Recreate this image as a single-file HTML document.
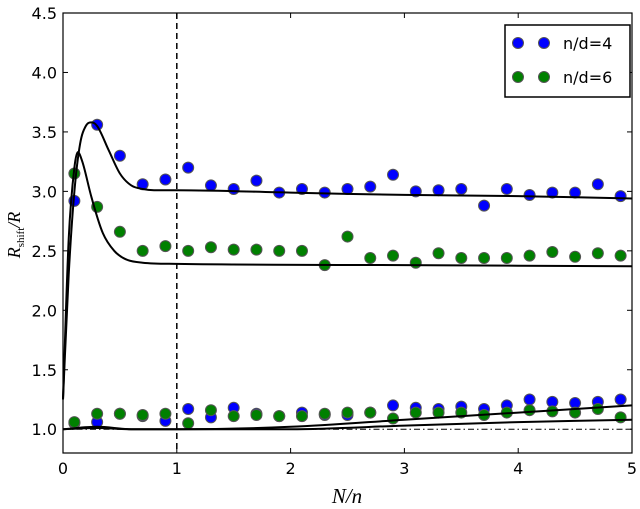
<!DOCTYPE html>
<html><head><meta charset="utf-8"><style>
body{margin:0;background:#fff;}
svg{display:block;font-family:"DejaVu Sans","Liberation Sans",sans-serif;}
</style></head><body>
<svg id="chart" width="640" height="509" viewBox="0 0 640 509"></svg>
<script>
const xs = [0.1,0.3,0.5,0.7,0.9,1.1,1.3,1.5,1.7,1.9,2.1,2.3,2.5,2.7,2.9,3.1,3.3,3.5,3.7,3.9,4.1,4.3,4.5,4.7,4.9];
const blueUpper = [2.92,3.56,3.30,3.06,3.10,3.20,3.05,3.02,3.09,2.99,3.02,2.99,3.02,3.04,3.14,3.00,3.01,3.02,2.88,3.02,2.97,2.99,2.99,3.06,2.96];
const greenUpper = [3.15,2.87,2.66,2.50,2.54,2.50,2.53,2.51,2.51,2.50,2.50,2.38,2.62,2.44,2.46,2.40,2.48,2.44,2.44,2.44,2.46,2.49,2.45,2.48,2.46];
const blueLower = [1.05,1.06,1.13,1.11,1.07,1.17,1.10,1.18,1.13,1.11,1.14,1.12,1.12,1.14,1.20,1.18,1.17,1.19,1.17,1.20,1.25,1.23,1.22,1.23,1.25];
const greenLower = [1.06,1.13,1.13,1.12,1.13,1.05,1.16,1.11,1.12,1.11,1.11,1.13,1.14,1.14,1.09,1.14,1.14,1.14,1.12,1.14,1.16,1.15,1.14,1.17,1.10];
const curveAX = [0,0.05,0.1,0.15,0.2,0.25,0.3,0.4,0.5,0.6,0.7,0.8,1,2,3,4,5];
const curveAY = [1.25,2.3,3.0,3.4,3.55,3.58,3.55,3.35,3.15,3.05,3.02,3.01,3.01,2.99,2.97,2.96,2.94];
const curveBX = [0,0.05,0.1,0.13,0.17,0.25,0.35,0.45,0.55,0.7,1,3,5];
const curveBY = [1.25,2.6,3.2,3.33,3.25,2.95,2.65,2.5,2.43,2.40,2.39,2.38,2.37];
const curveCX = [0,0.3,0.6,1,2,3,4,5];
const curveCY = [1.0,1.02,1.0,1.0,1.02,1.08,1.14,1.2];
const curveDX = [0,0.3,0.6,2,3,4,5];
const curveDY = [1.0,1.01,1.0,1.0,1.03,1.06,1.08];
const xTicks = [0,1,2,3,4,5];
const yTicks = [1.0,1.5,2.0,2.5,3.0,3.5,4.0,4.5];

const L=63,R=632,T=13,B=453;
const X0=0,X1=5,Y0=0.8,Y1=4.5;
function sx(v){return L+(v-X0)/(X1-X0)*(R-L);}
function sy(v){return B-(v-Y0)/(Y1-Y0)*(B-T);}
const NS="http://www.w3.org/2000/svg";
const svg=document.getElementById('chart');
function mk(tag,attrs,parent){const e=document.createElementNS(NS,tag);for(const k in attrs)e.setAttribute(k,attrs[k]);(parent||svg).appendChild(e);return e;}

let g=mk('line',{x1:sx(1),x2:sx(1),y1:T,y2:B,stroke:'#000','stroke-width':1.5,'stroke-dasharray':'6,4'});


g=mk('line',{x1:sx(0),x2:sx(5),y1:sy(1),y2:sy(1),stroke:'#000','stroke-width':1,'stroke-dasharray':'6,3,1.5,3'});



// monotone cubic (Fritsch-Carlson) in pixel space
function monoPath(xa,ya){
  const px=xa.map(sx), py=ya.map(sy), n=px.length;
  const d=[],m=[];
  for(let i=0;i<n-1;i++) d.push((py[i+1]-py[i])/(px[i+1]-px[i]));
  m[0]=d[0]; m[n-1]=d[n-2];
  for(let i=1;i<n-1;i++){ m[i]=(d[i-1]*d[i]<=0)?0:(d[i-1]+d[i])/2; }
  for(let i=0;i<n-1;i++){
    if(d[i]===0){m[i]=0;m[i+1]=0;continue;}
    const a=m[i]/d[i],b=m[i+1]/d[i],s=a*a+b*b;
    if(s>9){const t=3/Math.sqrt(s);m[i]=t*a*d[i];m[i+1]=t*b*d[i];}
  }
  let p='M'+px[0].toFixed(1)+','+py[0].toFixed(1);
  for(let i=0;i<n-1;i++){
    const h=(px[i+1]-px[i])/3;
    p+=' C'+(px[i]+h).toFixed(1)+','+(py[i]+m[i]*h).toFixed(1)+' '+(px[i+1]-h).toFixed(1)+','+(py[i+1]-m[i+1]*h).toFixed(1)+' '+px[i+1].toFixed(1)+','+py[i+1].toFixed(1);
  }
  return p;
}
function curve(xa,ya,name){
  const p=mk('path',{d:monoPath(xa,ya),fill:'none',stroke:'#000','stroke-width':2,'stroke-linejoin':'round'});
  
  
}
function points(ya,color,name){
  const grp=mk('g',{});
  
  
  xs.forEach((x,i)=>{
    const c=mk('circle',{cx:sx(x),cy:sy(ya[i]),r:5.5,fill:color,stroke:'#555','stroke-width':1},grp);
    
    
  });
}
points(blueUpper,'#0000ff','series-blue-upper');
points(blueLower,'#0000ff','series-blue-lower');
points(greenUpper,'#008000','series-green-upper');
points(greenLower,'#008000','series-green-lower');
curve(curveAX,curveAY,'fit-curve-upper');
curve(curveBX,curveBY,'fit-curve-middle');
curve(curveCX,curveCY,'fit-curve-lower-a');
curve(curveDX,curveDY,'fit-curve-lower-b');

g=mk('rect',{x:L,y:T,width:R-L,height:B-T,fill:'none',stroke:'#000','stroke-width':1.2});


xTicks.forEach(t=>{
  const x=sx(t);
  mk('line',{x1:x,x2:x,y1:B,y2:B-5,stroke:'#000'});
  mk('line',{x1:x,x2:x,y1:T,y2:T+5,stroke:'#000'});
  const tx=mk('text',{x:x,y:B+21,'font-size':16,'text-anchor':'middle'});
  tx.textContent=String(t);
  
  
});
yTicks.forEach(t=>{
  const y=sy(t);
  mk('line',{x1:L,x2:L+5,y1:y,y2:y,stroke:'#000'});
  mk('line',{x1:R,x2:R-5,y1:y,y2:y,stroke:'#000'});
  const tx=mk('text',{x:L-6,y:y+6,'font-size':16,'text-anchor':'end'});
  tx.textContent=t.toFixed(1);
  
  
});
</script>
<svg style="position:absolute;left:0;top:0" width="640" height="509">
  <text x="347" y="503" font-size="21" font-style="italic" text-anchor="middle" font-family="Liberation Serif,serif">N/n</text>
  <text transform="translate(20,235) rotate(-90)" font-size="18" font-style="italic" text-anchor="middle" font-family="Liberation Serif,serif">R<tspan font-size="11" font-style="normal" dy="4">shift</tspan><tspan dy="-4">/R</tspan></text>
  <g>
    <rect x="505" y="25" width="125" height="72" fill="#fff" stroke="#000" stroke-width="1.5"/>
    <circle cx="518" cy="43" r="5.5" fill="#0000ff" stroke="#555"/>
    <circle cx="544" cy="43" r="5.5" fill="#0000ff" stroke="#555"/>
    <text x="563" y="49" font-size="16">n/d=4</text>
    <circle cx="518" cy="77" r="5.5" fill="#008000" stroke="#555"/>
    <circle cx="544" cy="77" r="5.5" fill="#008000" stroke="#555"/>
    <text x="563" y="83" font-size="16">n/d=6</text>
  </g>
</svg>
</body></html>
